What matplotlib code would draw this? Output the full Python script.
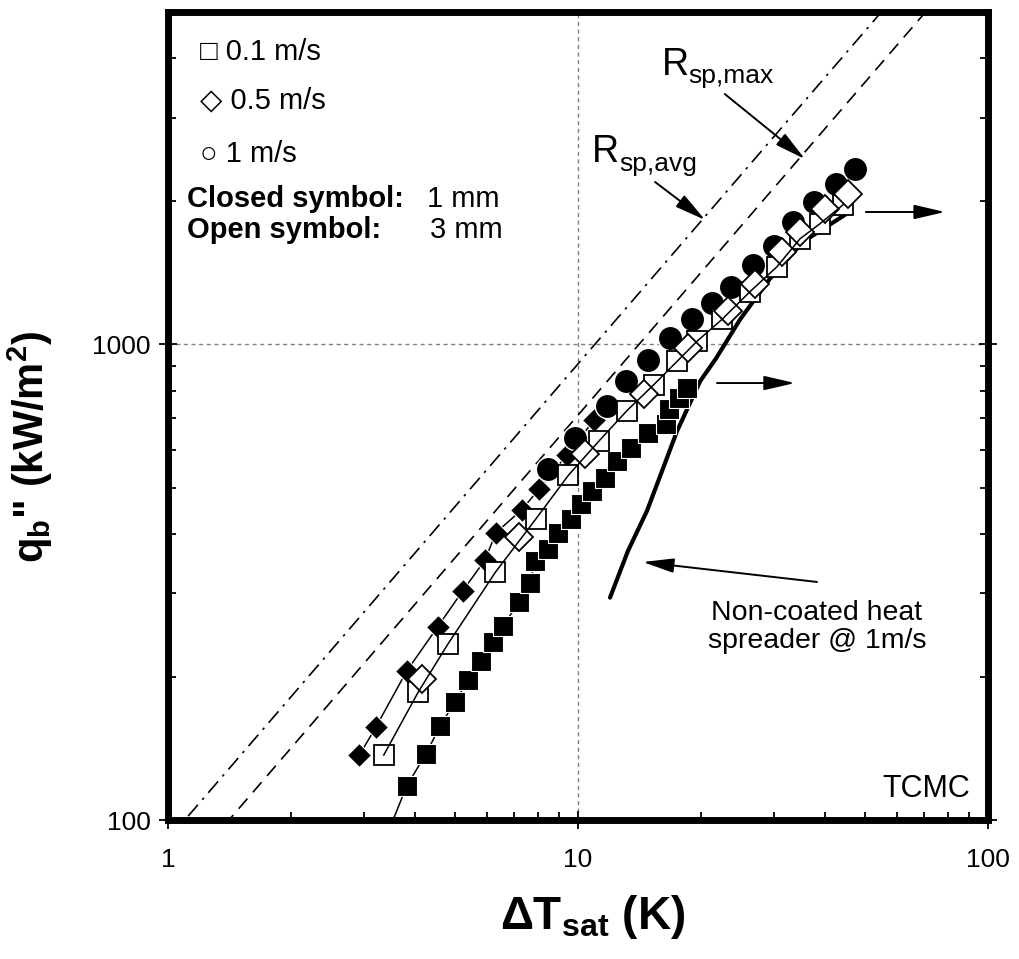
import matplotlib
matplotlib.use("Agg")
import matplotlib.pyplot as plt
from matplotlib.ticker import LogLocator, NullFormatter

plt.rcParams['font.family'] = ['Liberation Sans', 'DejaVu Sans']
plt.rcParams['mathtext.fontset'] = 'custom'
plt.rcParams['mathtext.rm'] = 'Liberation Sans'
plt.rcParams['mathtext.bf'] = 'Liberation Sans:bold'
plt.rcParams['mathtext.it'] = 'Liberation Sans:italic'

# 0.1 m/s, 1 mm (closed squares)
dT_sq_closed = [3.43, 3.82, 4.25, 4.61, 5.00, 5.40, 5.79, 6.21, 6.57, 7.18, 7.64, 7.86, 8.44,
                8.94, 9.61, 10.17, 10.8, 11.64, 12.43, 13.46, 14.82, 16.4, 16.7, 17.6, 18.4]
q_sq_closed = [93.5, 117.8, 137.5, 157.4, 177, 196.6, 215.8, 236.5, 256.4, 287, 315.5, 350.8, 371.7,
               402, 429.7, 461.9, 491.9, 524.5, 568.6, 606, 651.7, 680, 730, 770, 808]
# 0.1 m/s, 3 mm (open squares)
dT_sq_open = [3.36, 4.08, 4.81, 6.29, 7.90, 9.48, 11.28, 13.17, 15.31, 17.44, 19.50, 22.45,
              26.27, 30.58, 34.8, 38.9, 44.3]
q_sq_open = [137, 186, 234, 332, 430, 531, 628, 726, 823, 921, 1015, 1129,
             1291, 1457, 1668, 1793, 1966]
# 0.5 m/s, 1 mm (closed diamonds)
dT_dia_closed = [2.93, 3.21, 3.82, 4.55, 5.23, 5.93, 6.31, 7.29, 8.03, 9.38, 10.94]
q_dia_closed = [137, 156.5, 205.6, 255, 303, 352, 402, 449, 496, 585, 693]
# 0.5 m/s, 3 mm (open diamonds)
dT_dia_open = [4.16, 7.19, 10.40, 14.49, 18.55, 23.2, 27.0, 31.5, 34.8, 40.0, 45.5]
q_dia_open = [198, 393, 587, 788, 982, 1173, 1343, 1567, 1726, 1928, 2073]
# 1 m/s, 1 mm (closed circles)
dT_circ_closed = [8.45, 9.83, 11.75, 13.13, 14.84, 16.81, 18.94, 21.19, 23.6, 26.72, 30.07,
                  33.5, 37.6, 42.6, 47.4]
q_circ_closed = [547, 635, 741, 837, 929, 1034, 1132, 1221, 1323, 1469, 1613,
                 1811, 1995, 2176, 2339]
# non-coated heat spreader @ 1 m/s
dT_noncoated = [11.97, 13.24, 14.73, 16.03, 17.44, 19.85, 21.71, 24.85, 29.39, 35.4, 44.8]
q_noncoated = [293.5, 368, 446.6, 541.7, 657.3, 836.6, 934.6, 1128.7, 1375, 1644, 1873]

# spreading resistance limits, q = h * dT
dT_limit = [1, 100]
h_sp_avg = 91
h_sp_max = 71

fig = plt.figure(figsize=(10.19, 9.59), dpi=100)
ax = fig.add_axes([168 / 1019, 1 - 820 / 959, 820 / 1019, 808 / 959])
ax.set_xscale('log')
ax.set_yscale('log')
ax.set_xlim(1, 100)
ax.set_ylim(100, 5000)

ax.grid(True, which='major', color='#808080', linestyle=(0, (3, 2.5)), lw=1.0)

ax.plot(dT_limit, [h_sp_avg * t for t in dT_limit], color='black', lw=1.2,
        linestyle=(0, (9, 4, 1.5, 4)))
ax.plot(dT_limit, [h_sp_max * t for t in dT_limit], color='black', lw=1.2,
        linestyle=(0, (8, 5)))

ax.plot(dT_noncoated, q_noncoated, color='black', lw=3.0, solid_capstyle='round', zorder=3)

ax.plot(dT_sq_closed, q_sq_closed, color='black', lw=1.1, marker='s', ms=15,
        mfc='black', mec='white', mew=0.8, zorder=4)
ax.plot(dT_dia_closed, q_dia_closed, color='black', lw=1.1, marker='D', ms=12.5,
        mfc='black', mec='white', mew=0.8, zorder=5)
ax.plot(dT_circ_closed, q_circ_closed, linestyle='none', marker='o', ms=17.5,
        mfc='black', mec='white', mew=1.0, zorder=6)
ax.plot(dT_sq_open, q_sq_open, linestyle='none', marker='s', ms=14,
        mfc='white', mec='black', mew=1.3, zorder=7)
ax.plot(dT_dia_open, q_dia_open, linestyle='none', marker='D', ms=14.5,
        mfc='white', mec='black', mew=1.3, zorder=8)
# connecting line of the open squares sits over the markers
ax.plot(dT_sq_open, q_sq_open, color='black', lw=1.1, zorder=9)

# axes styling
for s in ax.spines.values():
    s.set_linewidth(5)
    s.set_zorder(10)
ax.set_xticks([1, 10, 100], ['1', '10', '100'])
ax.set_yticks([100, 1000], ['100', '1000'])
ax.xaxis.set_minor_locator(LogLocator(base=10, subs=range(2, 10)))
ax.yaxis.set_minor_locator(LogLocator(base=10, subs=range(2, 10)))
ax.xaxis.set_minor_formatter(NullFormatter())
ax.yaxis.set_minor_formatter(NullFormatter())
ax.tick_params(which='major', direction='inout', length=13, width=1.3, labelsize=19,
               right=True, top=False, pad=6)
ax.tick_params(which='minor', direction='in', length=6, width=1.3, right=True, top=False)
ax.tick_params(axis='x', which='major', pad=14)

ax.set_xlabel(r'ΔT$_{\mathbf{sat}}$ (K)', fontsize=33, fontweight='bold')
ax.xaxis.set_label_coords(0.518, -0.090)
ax.set_ylabel(r'q$_{\mathbf{b}}$" (kW/m$^{\mathbf{2}}$)', fontsize=30, fontweight='bold')
ax.yaxis.set_label_coords(-0.138, 0.4616)

# legend-like text block
fs = 21
ax.text(0.039, 0.950, '□ 0.1 m/s', transform=ax.transAxes, fontsize=fs, va='center')
ax.text(0.039, 0.891, '◇ 0.5 m/s', transform=ax.transAxes, fontsize=fs, va='center')
ax.text(0.039, 0.824, '○ 1 m/s', transform=ax.transAxes, fontsize=fs, va='center')
ax.text(0.023, 0.7686, 'Closed symbol:', transform=ax.transAxes, fontsize=fs,
        fontweight='bold', va='center')
ax.text(0.316, 0.7686, '1 mm', transform=ax.transAxes, fontsize=fs, va='center')
ax.text(0.023, 0.730, 'Open symbol:', transform=ax.transAxes, fontsize=fs,
        fontweight='bold', va='center')
ax.text(0.319, 0.730, '3 mm', transform=ax.transAxes, fontsize=fs, va='center')

for lx, ly, sub in [(0.602, 0.922, 'sp,max'), (0.517, 0.814, 'sp,avg')]:
    ax.text(lx, ly, 'R', transform=ax.transAxes, fontsize=27, va='baseline')
    ax.annotate(sub, xy=(lx, ly), xycoords='axes fraction', xytext=(19.5, -6),
                textcoords='offset points', fontsize=19, va='baseline')

ax.text(0.7915, 0.239, 'Non-coated heat\nspreader @ 1m/s', transform=ax.transAxes,
        fontsize=20.5, ha='center', va='center', linespacing=1.12)
ax.text(0.978, 0.0285, 'TCMC', transform=ax.transAxes, fontsize=22, ha='right',
        va='baseline')

arrow = dict(arrowstyle='-|>,head_length=0.95,head_width=0.22', color='black', lw=1.4,
             mutation_scale=20, shrinkA=0, shrinkB=0)
ax.annotate('', xy=(0.7768, 0.818), xytext=(0.679, 0.8985), xycoords='axes fraction',
            arrowprops=arrow)
ax.annotate('', xy=(0.655, 0.7426), xytext=(0.594, 0.7896), xycoords='axes fraction',
            arrowprops=arrow)
ax.annotate('', xy=(0.9476, 0.7525), xytext=(0.851, 0.7525), xycoords='axes fraction',
            arrowprops=arrow)
ax.annotate('', xy=(0.7646, 0.5408), xytext=(0.6695, 0.5408), xycoords='axes fraction',
            arrowprops=arrow)
ax.annotate('', xy=(0.579, 0.3193), xytext=(0.7915, 0.2946), xycoords='axes fraction',
            arrowprops=arrow)

fig.savefig('out.png', dpi=100)
